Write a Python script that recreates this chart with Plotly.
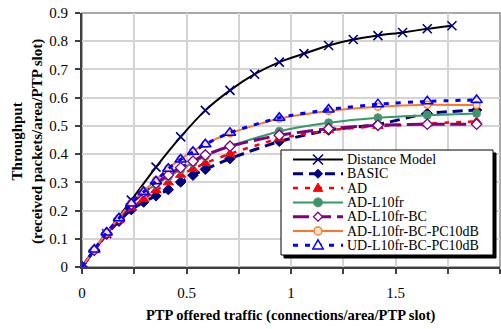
import plotly.graph_objects as go

# ---------------- data ----------------
load = [0, 0.059, 0.118, 0.177, 0.236, 0.295, 0.354, 0.413, 0.472, 0.531, 0.590,
        0.708, 0.944, 1.180, 1.416, 1.652, 1.888]

dist_load = [0, 0.118, 0.236, 0.354, 0.472, 0.590, 0.708, 0.826, 0.944, 1.062,
             1.180, 1.298, 1.416, 1.534, 1.652, 1.770]
dist_thr = [0, 0.118, 0.237, 0.354, 0.461, 0.555, 0.626, 0.683, 0.726, 0.756,
            0.785, 0.806, 0.820, 0.831, 0.844, 0.855]

basic = [0, 0.059, 0.116, 0.162, 0.203, 0.230, 0.252, 0.274, 0.301, 0.325, 0.346,
         0.384, 0.445, 0.485, 0.505, 0.544, 0.556]
ad = [0, 0.060, 0.118, 0.166, 0.210, 0.240, 0.272, 0.299, 0.326, 0.347, 0.368,
      0.401, 0.455, 0.484, 0.499, 0.508, 0.516]
ad_l10 = [0, 0.060, 0.120, 0.170, 0.222, 0.264, 0.292, 0.319, 0.345, 0.369, 0.392,
          0.428, 0.481, 0.511, 0.529, 0.538, 0.544]
ad_l10_bc = [0, 0.060, 0.120, 0.170, 0.222, 0.266, 0.297, 0.326, 0.352, 0.375, 0.397,
             0.428, 0.467, 0.490, 0.502, 0.506, 0.506]
ad_l10_bc_pc = [0, 0.062, 0.122, 0.175, 0.228, 0.270, 0.308, 0.350, 0.383, 0.410, 0.436,
                0.474, 0.526, 0.553, 0.568, 0.575, 0.574]
ud_l10_bc_pc = [0, 0.062, 0.122, 0.173, 0.225, 0.266, 0.304, 0.348, 0.381, 0.408, 0.435,
                0.476, 0.529, 0.558, 0.577, 0.587, 0.592]

names = ["Distance Model", "BASIC", "AD", "AD-L10fr", "AD-L10fr-BC",
         "AD-L10fr-BC-PC10dB", "UD-L10fr-BC-PC10dB"]
xs = [dist_load, load, load, load, load, load, load]
ys = [dist_thr, basic, ad, ad_l10, ad_l10_bc, ad_l10_bc_pc, ud_l10_bc_pc]

x_ticks = [0, 0.5, 1, 1.5, 2]
y_ticks = [0, 0.1, 0.2, 0.3, 0.4, 0.5, 0.6, 0.7, 0.8, 0.9]

# ---------------- styles ----------------
FONT = "Liberation Serif"
styles = [
    dict(color="#000000", width=2, dash="solid", sym="x-thin-open", msize=9,
         mcolor="#000080", mfill="#000080", mline=1.6),
    dict(color="#000080", width=3, dash="10px,6px", sym="diamond", msize=8,
         mcolor="#000080", mfill="#000080", mline=1),
    dict(color="#FF0000", width=2.5, dash="5px,7px", sym="triangle-up", msize=9,
         mcolor="#FF0000", mfill="#FF0000", mline=1),
    dict(color="#339966", width=2, dash="solid", sym="circle", msize=8,
         mcolor="#6b8e7a", mfill="#339966", mline=1),
    dict(color="#800080", width=3, dash="16px,6px", sym="diamond", msize=8,
         mcolor="#800080", mfill="#FFFFFF", mline=1.3),
    dict(color="#FF7722", width=2, dash="solid", sym="circle", msize=7,
         mcolor="#FF7722", mfill="#FFE0C8", mline=1.3),
    dict(color="#0000FF", width=3, dash="5px,7px", sym="triangle-up-open", msize=10,
         mcolor="#0000FF", mfill="#0000FF", mline=1.5),
]

fig = go.Figure()
for name, x, y, s in zip(names, xs, ys, styles):
    fig.add_trace(go.Scatter(
        x=x, y=y, name=name, mode="lines+markers",
        line=dict(color=s["color"], width=s["width"], dash=s["dash"],
                  shape="spline", smoothing=0.6),
        marker=dict(symbol=s["sym"], size=s["msize"], color=s["mfill"],
                    line=dict(color=s["mcolor"], width=s["mline"])),
        showlegend=False,
    ))

# ---------------- layout geometry ----------------
W, H = 501, 329
L, R, T, B = 82, 1, 13, 62
PW, PH = W - L - R, H - T - B


def px2x(px):
    return (px - L) / PW


def py2y(py):
    return (H - B - py) / PH


shapes = []
annotations = []

# plot frame (grey, top/right)
shapes.append(dict(type="rect", xref="paper", yref="paper", x0=0, x1=1, y0=0, y1=1,
                   line=dict(color="#8c8c8c", width=1.5), layer="below"))

# ---------------- custom legend ----------------
LX0, LX1, LY0, LY1 = 281, 493, 150, 255
SH = 3
shapes.append(dict(type="rect", xref="paper", yref="paper",
                   x0=px2x(LX0 + SH), x1=px2x(LX1 + SH), y0=py2y(LY1 + SH), y1=py2y(LY0 + SH),
                   fillcolor="#000000", line=dict(color="#000000", width=1), layer="above"))
shapes.append(dict(type="rect", xref="paper", yref="paper",
                   x0=px2x(LX0), x1=px2x(LX1), y0=py2y(LY1), y1=py2y(LY0),
                   fillcolor="#FFFFFF", line=dict(color="#000000", width=1), layer="above"))

ROW0, ROW_STEP = 159.5, 14.3
SX0, SX1, SXM, TX = 293, 343, 318, 346


def marker_shape(sym, cx, cy, s):
    r = s["msize"] / 2 + 0.5
    base = dict(xref="paper", yref="paper", xsizemode="pixel", ysizemode="pixel",
                xanchor=px2x(cx), yanchor=py2y(cy), layer="above",
                line=dict(color=s["mcolor"], width=s["mline"]))
    if sym.startswith("x"):
        return dict(base, type="path",
                    path=f"M{-r},{-r} L{r},{r} M{-r},{r} L{r},{-r}")
    if sym.startswith("diamond"):
        return dict(base, type="path", fillcolor=s["mfill"],
                    path=f"M0,{r} L{r},0 L0,{-r} L{-r},0 Z")
    if sym.startswith("triangle"):
        fill = "#FFFFFF" if sym.endswith("open") else s["mfill"]
        return dict(base, type="path", fillcolor=fill,
                    path=f"M0,{r} L{r * 0.95},{-r * 0.65} L{-r * 0.95},{-r * 0.65} Z")
    return dict(base, type="circle", fillcolor=s["mfill"], x0=-r, x1=r, y0=-r, y1=r)


for i, (name, s) in enumerate(zip(names, styles)):
    cy = ROW0 + i * ROW_STEP
    shapes.append(dict(type="line", xref="paper", yref="paper",
                       x0=px2x(SX0), x1=px2x(SX1), y0=py2y(cy), y1=py2y(cy),
                       line=dict(color=s["color"], width=s["width"], dash=s["dash"]),
                       layer="above"))
    shapes.append(marker_shape(s["sym"], SXM, cy, s))
    annotations.append(dict(text=name, xref="paper", yref="paper", x=px2x(TX), y=py2y(cy),
                            xanchor="left", yanchor="middle", showarrow=False,
                            borderpad=0, height=13,
                            font=dict(family=FONT, size=14, color="#000000")))

# axis titles
annotations.append(dict(text="<b>PTP offered traffic (connections/area/PTP slot)</b>",
                        xref="paper", yref="paper", x=px2x(291), y=py2y(315),
                        xanchor="center", yanchor="middle", showarrow=False,
                        font=dict(family=FONT, size=14.5, color="#000000")))
annotations.append(dict(text="<b>Throughput<br>(received packets/area/PTP slot)</b>",
                        xref="paper", yref="paper", x=px2x(27), y=py2y(142),
                        xanchor="center", yanchor="middle", showarrow=False, textangle=-90,
                        font=dict(family=FONT, size=15, color="#000000")))

axis_common = dict(
    showline=True, linecolor="#404040", linewidth=2, mirror=False,
    ticks="outside", ticklen=5, tickwidth=1.5, tickcolor="#404040",
    showgrid=True, gridcolor="#d4d4d4", gridwidth=1.5, zeroline=False,
    tickfont=dict(family=FONT, size=15, color="#000000"),
)

fig.update_layout(
    width=W, height=H,
    margin=dict(l=L, r=R, t=T, b=B, pad=0),
    paper_bgcolor="#FFFFFF", plot_bgcolor="#FFFFFF",
    font=dict(family=FONT, size=15, color="#000000"),
    xaxis=dict(axis_common, range=[0, 2], tickvals=x_ticks, ticktext=[str(v) for v in x_ticks],
               ticklabelstandoff=6,
               minor=dict(dtick=0.25, showgrid=True, gridcolor="#d4d4d4", gridwidth=1.5,
                          ticks="outside", ticklen=5, tickcolor="#404040")),
    yaxis=dict(axis_common, range=[0, 0.9], tickvals=y_ticks,
               ticktext=[f"{v:g}" for v in y_ticks], ticklabelstandoff=4),
    shapes=shapes,
    annotations=annotations,
    showlegend=False,
)

fig.write_html("out.html")
